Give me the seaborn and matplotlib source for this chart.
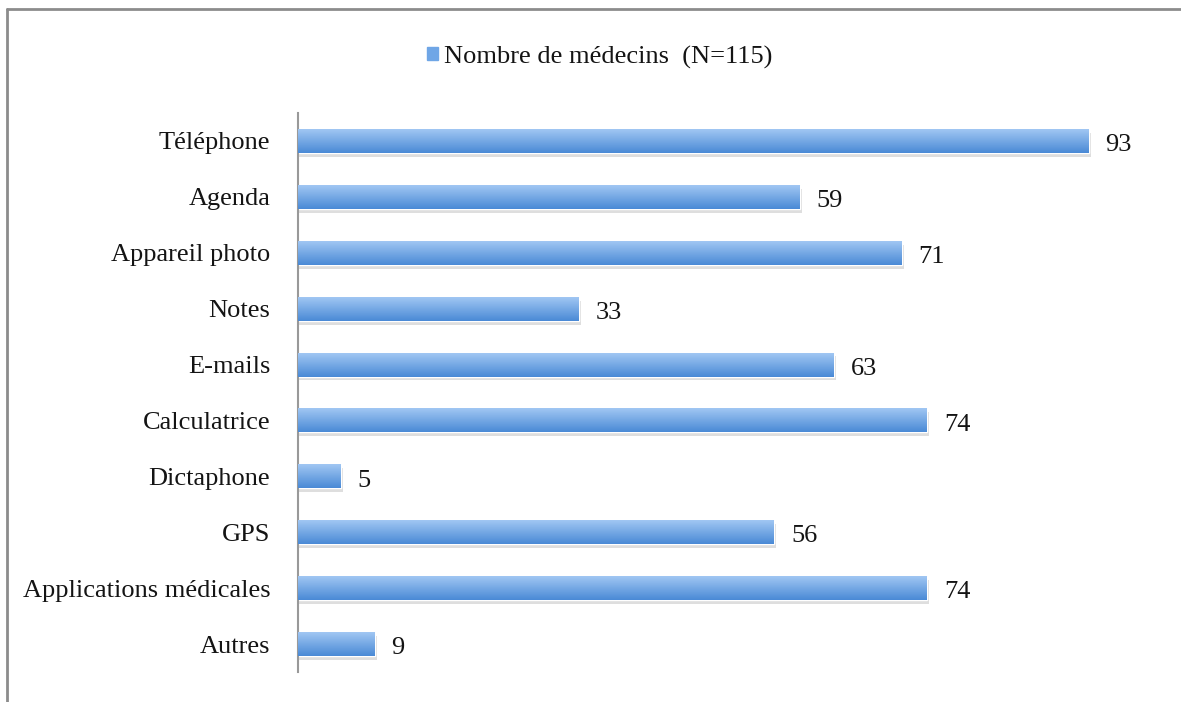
import numpy as np
import pandas as pd
import matplotlib.pyplot as plt
import seaborn as sns
from matplotlib.lines import Line2D
from matplotlib.patches import Rectangle

categories = ["Téléphone", "Agenda", "Appareil photo", "Notes", "E-mails",
              "Calculatrice", "Dictaphone", "GPS", "Applications médicales", "Autres"]
values = [93, 59, 71, 33, 63, 74, 5, 56, 74, 9]
legend_label = "Nombre de médecins  (N=115)"

df = pd.DataFrame({"categorie": categories, "medecins": values})

sns.set_style("white")
plt.rcParams["font.family"] = ["Liberation Serif", "DejaVu Serif"]
plt.rcParams["text.color"] = "#141414"
plt.rcParams["ytick.color"] = "#141414"

fig = plt.figure(figsize=(11.81, 7.02), dpi=100)
ax = fig.add_axes([298 / 1181, 30 / 702, 850 / 1181, 559 / 702])

sns.barplot(data=df, x="medecins", y="categorie", orient="h", color="#6fa6e6",
            width=0.43, ax=ax, zorder=2)

# gradient + soft shadow on each bar
grad = np.linspace(0, 1, 64).reshape(-1, 1)
cmap = plt.matplotlib.colors.LinearSegmentedColormap.from_list("b", ["#a4c9f4", "#4a8ad6"])
for p in list(ax.patches):
    x0, y0, w, h = p.get_x(), p.get_y(), p.get_width(), p.get_height()
    sh = Rectangle((x0, y0 + 0.07), w + 0.25, h, color="#000000", alpha=0.13,
                   lw=0, zorder=1)
    ax.add_patch(sh)
    im = ax.imshow(grad, extent=(x0, x0 + w, y0 + h, y0), aspect="auto",
                   cmap=cmap, zorder=3)
    im.set_clip_path(p)

for i, v in enumerate(values):
    ax.text(v + 2, i + 0.03, str(v), va="center_baseline", ha="left", fontsize=19)

ax.set_xlim(0, 100)
ax.set_ylim(9.5, -0.5)
ax.set_xlabel("")
ax.set_ylabel("")
ax.set_xticks([])
ax.tick_params(axis="y", length=0, pad=20, labelsize=19)
for s in ["top", "right", "bottom"]:
    ax.spines[s].set_visible(False)
ax.spines["left"].set_color("#999999")
ax.spines["left"].set_linewidth(1.5)

leg = ax.legend(handles=[Rectangle((0, 0), 1, 1, color="#6fa6e6")],
                labels=[legend_label], loc="center",
                bbox_to_anchor=(600 / 1181, 1 - 57 / 702),
                bbox_transform=fig.transFigure, frameon=False, fontsize=19,
                handlelength=0.4, handleheight=0.4, handletextpad=0.25)

# outer frame
fig.add_artist(Line2D([7 / 1181, 7 / 1181], [0, 1 - 9 / 702], transform=fig.transFigure,
                      color="#8c8c8c", lw=2))
fig.add_artist(Line2D([7 / 1181, 1], [1 - 9 / 702, 1 - 9 / 702], transform=fig.transFigure,
                      color="#8c8c8c", lw=2))

fig.savefig("out.png", dpi=100)
